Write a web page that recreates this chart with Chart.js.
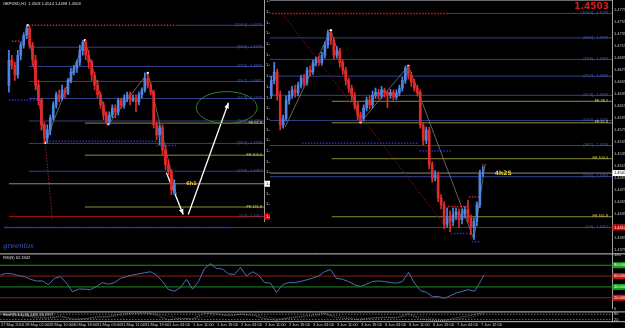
<!DOCTYPE html>
<html>
<head>
<meta charset="utf-8">
<script src="https://cdn.jsdelivr.net/npm/chart.js@4.4.1/dist/chart.umd.min.js"></script>
<style>
  html, body { margin: 0; padding: 0; background: #000; }
  body { width: 625px; height: 328px; position: relative; overflow: hidden; }
  canvas { position: absolute; }
</style>
</head>
<body>
<canvas id="grafPrincipal" width="625" height="263" style="left:0;top:-4px"></canvas>
<canvas id="grafVentana" width="270" height="230" style="left:0;top:-4px"></canvas>
<canvas id="grafRsi" width="625" height="63" style="left:0;top:250px"></canvas>
<canvas id="grafStoch" width="625" height="20" style="left:0;top:308px"></canvas>
<script>
// Eje de tiempo: velas H1, una etiqueta cada 8 velas
const etiquetasTiempo = ['27 May 2016', '28 May 02:00', '28 May 10:00', '30 May 18:00', '31 May 03:00',
    '31 May 11:00', '31 May 19:00', '1 Jun 03:00', '1 Jun 11:00', '1 Jun 19:00', '2 Jun 03:00',
    '2 Jun 11:00', '2 Jun 19:00', '3 Jun 03:00', '3 Jun 11:00', '3 Jun 19:00', '6 Jun 03:00',
    '6 Jun 11:00', '6 Jun 19:00', '7 Jun 04:00', '7 Jun 12:00'];

// Marcas del eje de precios
const ticksPrecio = [1.4775, 1.4755, 1.4735, 1.4715, 1.4695, 1.4675, 1.4655, 1.4635, 1.4615, 1.4595,
    1.4575, 1.4555, 1.4535, 1.4515, 1.4495, 1.4475, 1.4455, 1.4435, 1.4415, 1.4395, 1.4375];
const ticksVentana = [1.4815, 1.4795, 1.4775, 1.4755, 1.4735, 1.4715, 1.4695, 1.4675, 1.4655, 1.4635,
    1.4615, 1.4595, 1.4575, 1.4555, 1.4535, 1.4515, 1.4495, 1.4475, 1.4455, 1.4435, 1.4415];

// Niveles de Fibonacci y expansiones
const nivelesFibo = [1.4770, 1.4729, 1.4693, 1.4665, 1.4633, 1.4591, 1.4549, 1.4497, 1.4412];
const etiquetasFibo = ['[100.0] - 1.4770', '[88.6] - 1.4729', '[78.6] - 1.4693', '[70.7] - 1.4665',
    '[61.8] - 1.4633', '[50.0] - 1.4591', '[38.2] - 1.4549', '[23.6] - 1.4497', '[0.0] - 1.4412'];
const nivelesFE = [1.4623, 1.4587, 1.4527, 1.4430];
const etiquetasFE = ['FE 38.2', 'FE 61.8', 'FE 100.0', 'FE 161.8'];
const precioActual = 1.4503;
const precioVentana = 1.44735;

// Velas del gráfico principal (empiezan en la vela 89)
const inicioPrincipal = 89;
const aperturaPrincipal = [1.4633, 1.4658, 1.4672, 1.4633, 1.4583, 1.4595, 1.4625, 1.4633, 1.4642, 1.4637,
    1.4650, 1.4662, 1.4655, 1.4675, 1.4672, 1.4687, 1.4692, 1.4688, 1.4700, 1.4717,
    1.4737, 1.4725, 1.4700, 1.4708, 1.4688, 1.4675, 1.4658, 1.4645, 1.4633, 1.4617,
    1.4600, 1.4595, 1.4612, 1.4625, 1.4617, 1.4633, 1.4638, 1.4632, 1.4642, 1.4637,
    1.4633, 1.4638, 1.4630, 1.4637, 1.4645, 1.4658, 1.4678, 1.4667, 1.4655, 1.4645,
    1.4638, 1.4583, 1.4558, 1.4575, 1.4517, 1.4495, 1.4500, 1.4462, 1.4450, 1.4417,
    1.4428, 1.4422, 1.4433, 1.4438, 1.4425, 1.4435, 1.4442, 1.4428, 1.4412, 1.4422,
    1.4450, 1.4503];
const maximoPrincipal = [1.4665, 1.4688, 1.4677, 1.4640, 1.4600, 1.4632, 1.4640, 1.4648, 1.4650, 1.4655,
    1.4667, 1.4668, 1.4680, 1.4682, 1.4692, 1.4697, 1.4698, 1.4705, 1.4722, 1.4742,
    1.4740, 1.4730, 1.4715, 1.4712, 1.4692, 1.4680, 1.4662, 1.4650, 1.4638, 1.4622,
    1.4605, 1.4617, 1.4630, 1.4632, 1.4640, 1.4645, 1.4643, 1.4648, 1.4645, 1.4640,
    1.4643, 1.4642, 1.4642, 1.4650, 1.4663, 1.4682, 1.4682, 1.4672, 1.4660, 1.4650,
    1.4642, 1.4588, 1.4580, 1.4580, 1.4522, 1.4507, 1.4505, 1.4467, 1.4455, 1.4445,
    1.4440, 1.4445, 1.4445, 1.4443, 1.4443, 1.4447, 1.4458, 1.4433, 1.4428, 1.4455,
    1.4508, 1.4514];
const minimoPrincipal = [1.4628, 1.4652, 1.4625, 1.4575, 1.4578, 1.4590, 1.4618, 1.4628, 1.4630, 1.4632,
    1.4645, 1.4648, 1.4650, 1.4665, 1.4668, 1.4682, 1.4683, 1.4684, 1.4695, 1.4712,
    1.4718, 1.4693, 1.4695, 1.4680, 1.4668, 1.4650, 1.4638, 1.4625, 1.4610, 1.4592,
    1.4588, 1.4590, 1.4607, 1.4610, 1.4612, 1.4628, 1.4627, 1.4628, 1.4630, 1.4612,
    1.4628, 1.4625, 1.4626, 1.4632, 1.4640, 1.4653, 1.4660, 1.4648, 1.4640, 1.4632,
    1.4578, 1.4550, 1.4552, 1.4510, 1.4488, 1.4490, 1.4455, 1.4443, 1.4410, 1.4412,
    1.4405, 1.4415, 1.4425, 1.4412, 1.4418, 1.4428, 1.4420, 1.4400, 1.4392, 1.4415,
    1.4445, 1.4498];
const cierrePrincipal = [1.4658, 1.4672, 1.4633, 1.4583, 1.4595, 1.4625, 1.4633, 1.4642, 1.4637, 1.4650,
    1.4662, 1.4655, 1.4675, 1.4672, 1.4687, 1.4692, 1.4688, 1.4700, 1.4717, 1.4737,
    1.4725, 1.4700, 1.4708, 1.4688, 1.4675, 1.4658, 1.4645, 1.4633, 1.4617, 1.4600,
    1.4595, 1.4612, 1.4625, 1.4617, 1.4633, 1.4638, 1.4632, 1.4642, 1.4637, 1.4633,
    1.4638, 1.4630, 1.4637, 1.4645, 1.4658, 1.4678, 1.4667, 1.4655, 1.4645, 1.4638,
    1.4583, 1.4558, 1.4575, 1.4517, 1.4495, 1.4500, 1.4462, 1.4450, 1.4417, 1.4428,
    1.4422, 1.4433, 1.4438, 1.4425, 1.4435, 1.4442, 1.4428, 1.4412, 1.4422, 1.4450,
    1.4503, 1.4503];

// Velas de la ventana izquierda (empiezan en la vela 1)
const inicioVentana = 1;
const aperturaVentana = [1.4658, 1.4705, 1.4695, 1.4677, 1.4714, 1.4733, 1.4751, 1.4764, 1.4733, 1.4705,
    1.4658, 1.4630, 1.4584, 1.4559, 1.4574, 1.4597, 1.4621, 1.4640, 1.4634, 1.4649,
    1.4643, 1.4667, 1.4682, 1.4690, 1.4701, 1.4723, 1.4738, 1.4714, 1.4701, 1.4677,
    1.4658, 1.4640, 1.4621, 1.4602, 1.4589, 1.4602, 1.4615, 1.4608, 1.4630, 1.4621,
    1.4634, 1.4640, 1.4630, 1.4634, 1.4627, 1.4640, 1.4649, 1.4671, 1.4658, 1.4645,
    1.4584, 1.4565, 1.4578, 1.4537, 1.4509, 1.4496, 1.4457];
const maximoVentana = [1.4723, 1.4714, 1.4701, 1.4723, 1.4738, 1.4756, 1.4770, 1.4768, 1.4738, 1.4714,
    1.4667, 1.4634, 1.4589, 1.4584, 1.4602, 1.4627, 1.4645, 1.4649, 1.4658, 1.4653,
    1.4671, 1.4690, 1.4695, 1.4705, 1.4733, 1.4742, 1.4742, 1.4723, 1.4705, 1.4682,
    1.4667, 1.4645, 1.4627, 1.4608, 1.4608, 1.4621, 1.4621, 1.4634, 1.4634, 1.4640,
    1.4645, 1.4645, 1.4640, 1.4640, 1.4645, 1.4653, 1.4681, 1.4677, 1.4662, 1.4649,
    1.4589, 1.4584, 1.4584, 1.4546, 1.4518, 1.4500, 1.4481];
const minimoVentana = [1.4645, 1.4688, 1.4667, 1.4671, 1.4705, 1.4727, 1.4745, 1.4727, 1.4695, 1.4649,
    1.4621, 1.4574, 1.4550, 1.4550, 1.4565, 1.4593, 1.4615, 1.4627, 1.4630, 1.4634,
    1.4640, 1.4662, 1.4677, 1.4682, 1.4695, 1.4714, 1.4705, 1.4690, 1.4667, 1.4649,
    1.4634, 1.4615, 1.4593, 1.4585, 1.4584, 1.4597, 1.4597, 1.4602, 1.4615, 1.4615,
    1.4627, 1.4621, 1.4627, 1.4608, 1.4621, 1.4634, 1.4645, 1.4653, 1.4640, 1.4578,
    1.4556, 1.4546, 1.4528, 1.4500, 1.4490, 1.4453, 1.4453];
const cierreVentana = [1.4705, 1.4695, 1.4677, 1.4714, 1.4733, 1.4751, 1.4764, 1.4733, 1.4705, 1.4658,
    1.4630, 1.4584, 1.4559, 1.4574, 1.4597, 1.4621, 1.4640, 1.4634, 1.4649, 1.4643,
    1.4667, 1.4682, 1.4690, 1.4701, 1.4723, 1.4738, 1.4714, 1.4701, 1.4677, 1.4658,
    1.4640, 1.4621, 1.4602, 1.4589, 1.4602, 1.4615, 1.4608, 1.4630, 1.4621, 1.4634,
    1.4640, 1.4630, 1.4634, 1.4627, 1.4640, 1.4649, 1.4671, 1.4658, 1.4645, 1.4584,
    1.4565, 1.4578, 1.4537, 1.4509, 1.4496, 1.4462, 1.4474];

// Zigzag y puntos de giro
const zigzagPrincipal = [[93.7, 1.4580], [109, 1.4742], [119, 1.4588], [135, 1.4682], [157, 1.4392], [160.7, 1.4517]];
const zigzagVentana = [[7.3, 1.4770], [13.3, 1.4550], [26.7, 1.4742], [34.7, 1.4585], [48, 1.4681], [57.7, 1.4453]];
const flechaBajada = [[54.3, 1.4494], [60, 1.4416]];
const flechaSubida = [[61.7, 1.4416], [75.3, 1.4625]];
const elipseCentro = [74.7, 1.4616];
const elipseRadios = [10.3, 0.0030];

// RSI(9): un valor cada 2 velas
const rsiValores = [62, 65, 64, 61, 59, 54, 51, 51, 44, 56, 59, 47, 31, 36, 36, 35, 41, 48, 45, 48,
    56, 59, 62, 64, 66, 68, 62, 50, 35, 32, 39, 54, 36, 50, 74, 83, 74, 73, 64, 63,
    76, 60, 68, 62, 48, 47, 30, 44, 48, 48, 50, 53, 56, 60, 68, 72, 56, 54, 50, 44,
    41, 45, 50, 51, 50, 48, 47, 50, 67, 47, 33, 30, 22, 22, 19, 24, 29, 32, 35, 32,
    50, 62.3342];
const nivelesRsi = [80, 60, 40, 20];

// Estocástico: un valor cada 4 velas
const stochPrincipal = [80, 85, 60, 40, 35, 60, 20, 25, 50, 55, 80, 90, 95, 70, 15, 30, 25, 90, 85, 60,
    80, 70, 30, 10, 40, 55, 70, 90, 40, 30, 15, 40, 45, 40, 85, 25, 10, 5, 40, 60, 90, 96.1492];
const stochSenal = [75, 80, 70, 55, 42, 45, 38, 30, 35, 45, 65, 80, 90, 85, 55, 35, 25, 50, 70, 75,
    75, 72, 55, 30, 28, 40, 55, 75, 65, 45, 30, 28, 38, 42, 60, 55, 30, 15, 20, 40, 70, 83.2917];

const AZUL = '#4f86e4';
const ROJO = '#e42a2a';
const AZUL_FIBO = '#34408a';
const TEXTO_FIBO = '#4a5cb4';
const AMARILLO = '#8c8c36';
const TEXTO_FE = '#d2d24a';
const ROJO_CERO = '#b01414';
const PUNTEADO_AZUL = '#2a2ad0';
const ESTRECHA = '"Liberation Sans Narrow", "Liberation Sans", sans-serif';

Chart.defaults.font.family = ESTRECHA;
Chart.defaults.font.size = 4;
Chart.defaults.color = '#c8c8c8';
Chart.defaults.animation = false;
Chart.defaults.events = [];
Chart.defaults.plugins.legend.display = false;
Chart.defaults.plugins.tooltip.enabled = false;

// Velas: mechas y cuerpos como barras flotantes
function velas(inicio, ap, mx, mn, ci) {
    const colores = ci.map((c, i) => c >= ap[i] ? AZUL : ROJO);
    return [
        { type: 'bar', data: mx.map((h, i) => ({ x: inicio + i, y: [mn[i], h] })), backgroundColor: colores,
          barThickness: 1, maxBarThickness: 1, grouped: false, order: 0 },
        { type: 'bar', data: ap.map((o, i) => ({ x: inicio + i, y: [o, ci[i]] })), backgroundColor: colores,
          barThickness: 2, maxBarThickness: 2, grouped: false, order: 0 }
    ];
}

function segmento(x1, x2, valor, color, punteado, ancho) {
    return { type: 'line', data: [{ x: x1, y: valor }, { x: x2, y: valor }], borderColor: color,
        borderWidth: ancho || 1, borderDash: punteado ? [1.5, 1.5] : [], pointRadius: 0, order: 5 };
}

function trazo(puntos, color, ancho, punteado) {
    return { type: 'line', data: puntos.map(p => ({ x: p[0], y: p[1] })), borderColor: color,
        borderWidth: ancho, borderDash: punteado ? [1.5, 1.5] : [], pointRadius: 0, order: 3 };
}

function puntosGiro(puntos) {
    return { type: 'line', data: puntos.map(p => ({ x: p[0], y: p[1] })), showLine: false,
        pointRadius: 1.2, pointBackgroundColor: '#ffffff', pointBorderWidth: 0, order: 1 };
}

function ejePrecio(min, max, ticks, ancho, formato) {
    return {
        position: 'right', min, max, beginAtZero: false,
        grid: { display: false, drawTicks: false, tickLength: 0 },
        border: { display: true, color: '#a0a0a0' },
        ticks: { padding: 2, color: '#c8c8c8', callback: formato || (v => v.toFixed(4)) },
        afterBuildTicks: s => { s.ticks = ticks.map(v => ({ value: v })); },
        afterFit: s => { s.width = ancho; }
    };
}

function cajaEje(ctx, x, y, texto, fondo, tinta) {
    ctx.fillStyle = fondo;
    ctx.fillRect(x, y - 3, 13, 6);
    ctx.fillStyle = tinta;
    ctx.textAlign = 'left';
    ctx.textBaseline = 'middle';
    ctx.fillText(texto, x + 1.5, y);
}

// Etiquetas de niveles a la derecha del área
function etiquetasNiveles(ctx, escala, derecha, niveles, textos, color) {
    ctx.fillStyle = color;
    ctx.textAlign = 'right';
    ctx.textBaseline = 'bottom';
    niveles.forEach((v, i) => ctx.fillText(textos[i], derecha, escala.getPixelForValue(v) + 1.5));
}

// ---------- Gráfico principal ----------
const FIN_P = 204 - 2 / 3;
const datosPrincipal = [
    ...velas(inicioPrincipal, aperturaPrincipal, maximoPrincipal, minimoPrincipal, cierrePrincipal),
    segmento(86.3, 148.3, nivelesFibo[0], '#d02020', true, 1.5),
    segmento(148.3, FIN_P, nivelesFibo[0], AZUL_FIBO),
    ...nivelesFibo.slice(1, 8).map(v => segmento(87.3, FIN_P, v, AZUL_FIBO)),
    ...nivelesFE.map(v => segmento(109.3, FIN_P, v, AMARILLO)),
    segmento(-2 / 3, FIN_P, precioActual, '#8a8a8a'),
    segmento(-2 / 3, FIN_P, nivelesFibo[8], ROJO_CERO),
    segmento(-2 / 3, 75.3, nivelesFibo[8], '#4a3ad8', true, 1.5),
    segmento(89.3, 91.7, 1.4633, PUNTEADO_AZUL, true, 1.5),
    segmento(99.3, 138.3, 1.4553, PUNTEADO_AZUL, true, 1.5),
    segmento(138.7, 149.3, 1.4540, PUNTEADO_AZUL, true, 1.5),
    segmento(149.3, 156, 1.4402, PUNTEADO_AZUL, true, 1.5),
    segmento(156.3, 159.3, 1.4388, PUNTEADO_AZUL, true, 1.5),
    segmento(148.3, 155.3, 1.4447, '#d02020', true, 1.5),
    segmento(155.3, 158.7, 1.4463, '#d02020', true, 1.5),
    segmento(159.7, 161, 1.4517, '#d02020', true, 1.5),
    trazo([[92.7, 1.4770], [147.7, 1.4412]], '#7a1818', 1, true),
    trazo(zigzagPrincipal, '#7c7c7c', 0.8),
    puntosGiro(zigzagPrincipal.slice(1, 4))
];

const pluginPrincipal = {
    id: 'textosPrincipal',
    afterDraw(chart) {
        const ctx = chart.ctx, y = chart.scales.y, x = chart.scales.x, a = chart.chartArea;
        ctx.save();
        ctx.font = '3.8px ' + ESTRECHA;
        etiquetasNiveles(ctx, y, a.right - 4, nivelesFibo, etiquetasFibo, TEXTO_FIBO);
        etiquetasNiveles(ctx, y, a.right - 4, nivelesFE, etiquetasFE, TEXTO_FE);
        ctx.font = '4px ' + ESTRECHA;
        cajaEje(ctx, a.right + 0.5, y.getPixelForValue(precioActual), precioActual.toFixed(4), '#ffffff', '#000000');
        cajaEje(ctx, a.right + 0.5, y.getPixelForValue(nivelesFibo[8]), nivelesFibo[8].toFixed(4), '#e00000', '#ffffff');
        // precio grande arriba a la derecha
        ctx.font = 'bold 9px "DejaVu Sans"';
        ctx.fillStyle = '#e01818';
        ctx.textAlign = 'right';
        ctx.textBaseline = 'top';
        ctx.fillText(precioActual.toFixed(4), 609, 6);
        // cuenta atrás de la vela
        ctx.font = 'bold 6px "DejaVu Sans"';
        ctx.fillStyle = '#e6d23c';
        ctx.textAlign = 'left';
        ctx.textBaseline = 'middle';
        ctx.fillText('4h25', x.getPixelForValue(164), y.getPixelForValue(precioActual));
        ctx.font = 'italic 7px "DejaVu Serif"';
        ctx.fillStyle = '#3a5ac8';
        ctx.textBaseline = 'middle';
        ctx.fillText('greenius', 3, 250);
        ctx.strokeStyle = '#6a6a6a';
        ctx.beginPath();
        ctx.moveTo(270, 4.5);
        ctx.lineTo(a.right, 4.5);
        ctx.stroke();
        ctx.restore();
    }
};

new Chart(document.getElementById('grafPrincipal'), {
    type: 'bar',
    data: { datasets: datosPrincipal },
    options: {
        responsive: false,
        scales: {
            x: { type: 'linear', display: false, min: -2 / 3, max: FIN_P, offset: false },
            y: ejePrecio(1.43667, 1.47917, ticksPrecio, 13)
        }
    },
    plugins: [pluginPrincipal]
});

// ---------- Ventana izquierda ----------
const FIN_V = 88 - 2 / 3;
const datosVentana = [
    ...velas(inicioVentana, aperturaVentana, maximoVentana, minimoVentana, cierreVentana),
    segmento(7.7, 57.7, nivelesFibo[0], '#d02020', true, 1.5),
    segmento(57.7, FIN_V, nivelesFibo[0], AZUL_FIBO),
    ...nivelesFibo.slice(1, 8).map(v => segmento(7.7, FIN_V, v, AZUL_FIBO)),
    ...nivelesFE.slice(1).map(v => segmento(26.7, FIN_V, v, AMARILLO)),
    segmento(1, FIN_V, precioVentana, '#8a8a8a'),
    segmento(1, FIN_V, nivelesFibo[8], ROJO_CERO),
    segmento(1, 12.7, 1.4630, PUNTEADO_AZUL, true, 1.5),
    segmento(12.7, 51, 1.4553, PUNTEADO_AZUL, true, 1.5),
    segmento(51, 57.7, 1.4545, PUNTEADO_AZUL, true, 1.5),
    segmento(2, 5.3, 1.4740, '#d02020', true, 1.5),
    trazo([[12.7, 1.4584], [15.7, 1.4408]], '#a01c1c', 1, true),
    trazo(zigzagVentana, '#7c7c7c', 0.8),
    puntosGiro(zigzagVentana.slice(0, 5)),
    Object.assign(trazo(flechaBajada, '#ffffff', 1.3), { flecha: true, order: 0 }),
    Object.assign(trazo(flechaSubida, '#ffffff', 1.3), { flecha: true, order: 0 })
];

const pluginVentana = {
    id: 'textosVentana',
    beforeDraw(chart) {
        const ctx = chart.ctx;
        ctx.save();
        ctx.fillStyle = '#000';
        ctx.fillRect(0, 0, chart.width, chart.height);
        ctx.restore();
    },
    afterDatasetsDraw(chart) {
        const ctx = chart.ctx;
        ctx.save();
        ctx.fillStyle = '#ffffff';
        chart.data.datasets.forEach((ds, i) => {
            if (!ds.flecha) return;
            const pts = chart.getDatasetMeta(i).data;
            const a = pts[pts.length - 2], b = pts[pts.length - 1];
            const ang = Math.atan2(b.y - a.y, b.x - a.x);
            ctx.beginPath();
            ctx.moveTo(b.x, b.y);
            ctx.lineTo(b.x - 6 * Math.cos(ang - 0.4), b.y - 6 * Math.sin(ang - 0.4));
            ctx.lineTo(b.x - 6 * Math.cos(ang + 0.4), b.y - 6 * Math.sin(ang + 0.4));
            ctx.closePath();
            ctx.fill();
        });
        // elipse verde
        const x = chart.scales.x, y = chart.scales.y;
        const cx = x.getPixelForValue(elipseCentro[0]), cy = y.getPixelForValue(elipseCentro[1]);
        const rx = x.getPixelForValue(elipseCentro[0] + elipseRadios[0]) - cx;
        const ry = cy - y.getPixelForValue(elipseCentro[1] + elipseRadios[1]);
        ctx.strokeStyle = '#2f7f2f';
        ctx.lineWidth = 1;
        ctx.beginPath();
        ctx.ellipse(cx, cy, rx, ry, 0, 0, Math.PI * 2);
        ctx.stroke();
        ctx.restore();
    },
    afterDraw(chart) {
        const ctx = chart.ctx, y = chart.scales.y, x = chart.scales.x, a = chart.chartArea;
        ctx.save();
        ctx.font = '3.8px ' + ESTRECHA;
        etiquetasNiveles(ctx, y, a.right - 2, nivelesFibo, etiquetasFibo, TEXTO_FIBO);
        etiquetasNiveles(ctx, y, a.right - 2, nivelesFE.slice(1), etiquetasFE.slice(1), TEXTO_FE);
        ctx.font = '4px ' + ESTRECHA;
        cajaEje(ctx, a.right + 0.5, y.getPixelForValue(precioVentana), precioVentana.toFixed(4), '#ffffff', '#000000');
        cajaEje(ctx, a.right + 0.5, y.getPixelForValue(nivelesFibo[8]), nivelesFibo[8].toFixed(4), '#e00000', '#ffffff');
        ctx.font = 'bold 5px "DejaVu Sans"';
        ctx.fillStyle = '#e6d23c';
        ctx.textAlign = 'left';
        ctx.textBaseline = 'middle';
        ctx.fillText('6h1', x.getPixelForValue(61), y.getPixelForValue(precioVentana));
        ctx.font = '4px ' + ESTRECHA;
        ctx.fillStyle = '#e0e0e0';
        ctx.textBaseline = 'top';
        ctx.fillText('GBPUSD,H1  1.4503 1.4514 1.4498 1.4503', 3, 6);
        ctx.restore();
    }
};

new Chart(document.getElementById('grafVentana'), {
    type: 'bar',
    data: { datasets: datosVentana },
    options: {
        responsive: false,
        scales: {
            x: { type: 'linear', display: false, min: -2 / 3, max: FIN_V, offset: false },
            y: ejePrecio(1.44027, 1.48166, ticksVentana, 6)
        }
    },
    plugins: [pluginVentana]
});

// ---------- RSI ----------
const coloresRsi = ['#2a8a2a', '#8a1c1c', '#2a8a2a', '#8a1c1c'];
const pluginRsi = {
    id: 'textosRsi',
    afterDraw(chart) {
        const ctx = chart.ctx, y = chart.scales.y, a = chart.chartArea;
        ctx.save();
        ctx.strokeStyle = '#c8c8c8';
        ctx.lineWidth = 1;
        ctx.beginPath();
        ctx.moveTo(0, a.top - 0.5);
        ctx.lineTo(chart.width, a.top - 0.5);
        ctx.stroke();
        ctx.font = '4px ' + ESTRECHA;
        nivelesRsi.forEach((v, i) => {
            cajaEje(ctx, a.right + 0.5, y.getPixelForValue(v), v.toFixed(4), i % 2 ? '#c81414' : '#18a018', '#ffffff');
        });
        ctx.fillStyle = '#e0e0e0';
        ctx.textAlign = 'left';
        ctx.textBaseline = 'middle';
        ctx.fillText('RSI(9) ' + rsiValores[rsiValores.length - 1].toFixed(4), 3, a.top + 3.5);
        ctx.restore();
    }
};

new Chart(document.getElementById('grafRsi'), {
    type: 'line',
    data: {
        datasets: [
            { data: rsiValores.map((v, k) => ({ x: k < 81 ? 2 * k - 0.5 : 160.7, y: v })), borderColor: '#4a72b0',
              borderWidth: 1, pointRadius: 0, tension: 0, order: 0 },
            ...nivelesRsi.map((v, i) => segmento(-2 / 3, FIN_P, v, coloresRsi[i]))
        ]
    },
    options: {
        responsive: false,
        scales: {
            x: { type: 'linear', display: false, min: -2 / 3, max: FIN_P },
            y: ejePrecio(0, 100, [0, 100], 13, v => String(v))
        }
    },
    plugins: [pluginRsi]
});

// ---------- Estocástico y eje de tiempo ----------
const pluginStoch = {
    id: 'textosStoch',
    afterDraw(chart) {
        const ctx = chart.ctx, a = chart.chartArea;
        ctx.save();
        ctx.strokeStyle = '#c8c8c8';
        ctx.lineWidth = 1;
        ctx.beginPath();
        ctx.moveTo(0, a.top - 0.5);
        ctx.lineTo(chart.width, a.top - 0.5);
        ctx.moveTo(0, a.bottom + 0.5);
        ctx.lineTo(chart.width, a.bottom + 0.5);
        ctx.stroke();
        ctx.font = '3.8px ' + ESTRECHA;
        ctx.fillStyle = '#e0e0e0';
        ctx.textAlign = 'left';
        ctx.textBaseline = 'middle';
        ctx.fillText('Stoch(5,3,3) ' + stochPrincipal[stochPrincipal.length - 1].toFixed(4) + ' ' +
            stochSenal[stochSenal.length - 1].toFixed(4), 3, a.top + 3);
        ctx.restore();
    }
};

new Chart(document.getElementById('grafStoch'), {
    type: 'line',
    data: {
        datasets: [
            { data: stochPrincipal.map((v, k) => ({ x: k < 41 ? 4 * k - 0.5 : 160.7, y: v })), borderColor: '#9a9a9a',
              borderWidth: 0.8, borderDash: [1, 1], pointRadius: 0 },
            { data: stochSenal.map((v, k) => ({ x: k < 41 ? 4 * k - 0.5 : 160.7, y: v })), borderColor: '#6a6a6a',
              borderWidth: 0.8, borderDash: [1, 1.5], pointRadius: 0 },
            segmento(-2 / 3, FIN_P, 80, '#6a6a6a', true),
            segmento(-2 / 3, FIN_P, 20, '#6a6a6a', true)
        ]
    },
    options: {
        responsive: false,
        scales: {
            x: {
                type: 'linear', min: -2 / 3, max: FIN_P,
                grid: { display: false, drawTicks: false, tickLength: 0 },
                border: { display: false },
                ticks: { padding: 1, color: '#d0d0d0', align: 'start', maxRotation: 0, autoSkip: false,
                    font: { size: 4 },
                    callback: (v, i) => etiquetasTiempo[i] },
                afterBuildTicks: s => { s.ticks = etiquetasTiempo.map((t, k) => ({ value: 8 * k - 1 / 3 })); }
            },
            y: ejePrecio(0, 100, [20, 80], 13, v => String(v))
        }
    },
    plugins: [pluginStoch]
});
</script>
</body>
</html>
